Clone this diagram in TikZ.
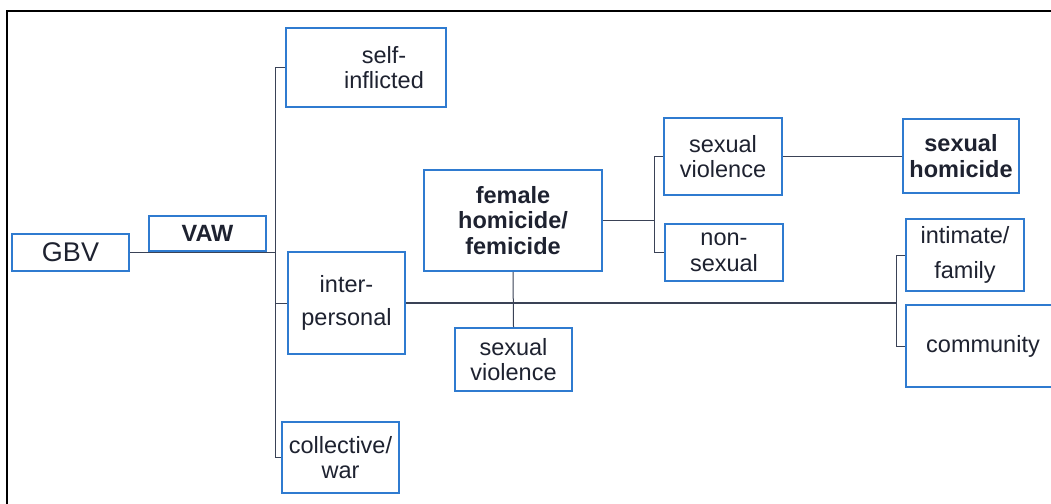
\documentclass[tikz,border=0pt]{standalone}
\usepackage{fontspec}
\setmainfont{Liberation Sans}
\definecolor{boxblue}{HTML}{2F7BD0}
\definecolor{ink}{HTML}{1E2230}
\definecolor{wire}{HTML}{3A4256}
\tikzset{
  bx/.style={draw=boxblue, line width=2pt, inner sep=0pt, align=center, text=ink,
    font=\fontsize{23.5}{25.5}\selectfont},
  bbx/.style={bx, font=\bfseries\fontsize{23.5}{25.5}\selectfont},
  txt/.style={inner sep=0pt, align=center, text=ink, font=\fontsize{23.5}{25.5}\selectfont},
  wire/.style={draw=wire, line width=1pt},
  thickwire/.style={draw=wire, line width=1.7pt}
}
\begin{document}
\begin{tikzpicture}[x=1pt,y=-1pt]
\useasboundingbox (0,0) rectangle (1051,503);
\fill[white] (0,0) rectangle (1051,503);
% frame
\draw[black, line width=2pt] (1060,11) -- (7,11) -- (7,510);

% boxes
\node[bx, minimum width=117pt, minimum height=37pt, font=\fontsize{27}{29}\selectfont] (gbv) at (70.5,252.5) {GBV};
\node[bbx, minimum width=117pt, minimum height=35pt] (vaw) at (207.5,233.5) {VAW};
\node[bx, minimum width=160pt, minimum height=79pt] (self) at (366,67.5) {};
\node[txt] (selft) at (384,67.5) {self-\\inflicted};
\node[bx, minimum width=117pt, minimum height=102pt] (inter) at (346.5,303) {inter-\\[7pt]personal};
\node[bx, minimum width=117pt, minimum height=71pt] (coll) at (340.5,457.5) {collective/\\war};
\node[bbx, minimum width=178pt, minimum height=101pt] (fem) at (513,220.5) {female\\homicide/\\femicide};
\node[bx, minimum width=117pt, minimum height=63pt] (lsv) at (513.5,359.5) {sexual\\violence};
\node[bx, minimum width=118pt, minimum height=77pt] (usv) at (723,156.5) {sexual\\violence};
\node[bx, minimum width=118pt, minimum height=57pt] (nons) at (724,252.5) {non-\\sexual};
\node[bbx, minimum width=116pt, minimum height=74pt] (sh) at (961,156) {sexual\\homicide};
\node[bx, minimum width=118pt, minimum height=72pt] (intim) at (965,255) {intimate/\\[9pt]family};
\node[bx, minimum width=154pt, minimum height=82pt] (comm) at (983,346) {community};

% connectors
\coordinate (tr) at (275,0);
\coordinate (fb) at (654,0);
\coordinate (br) at (896,0);
\draw[thickwire] (gbv.east) -- (gbv.east -| tr);
\draw[wire] (self.west) -- (self.west -| tr) -- (coll.west -| tr) -- (coll.west);
\draw[wire] (inter.west) -- (inter.west -| tr);
\draw[thickwire] (inter.east) -- (inter.east -| br);
\draw[wire] (intim.west) -- (intim.west -| br) -- (comm.west -| br) -- (comm.west);
\draw[wire] (fem.south) -- (lsv.north);
\draw[wire] (fem.east) -- (fem.east -| fb);
\draw[wire] (usv.west) -- (usv.west -| fb) -- (nons.west -| fb) -- (nons.west);
\draw[wire] (usv.east) -- (usv.east -| sh.west);
\end{tikzpicture}
\end{document}
